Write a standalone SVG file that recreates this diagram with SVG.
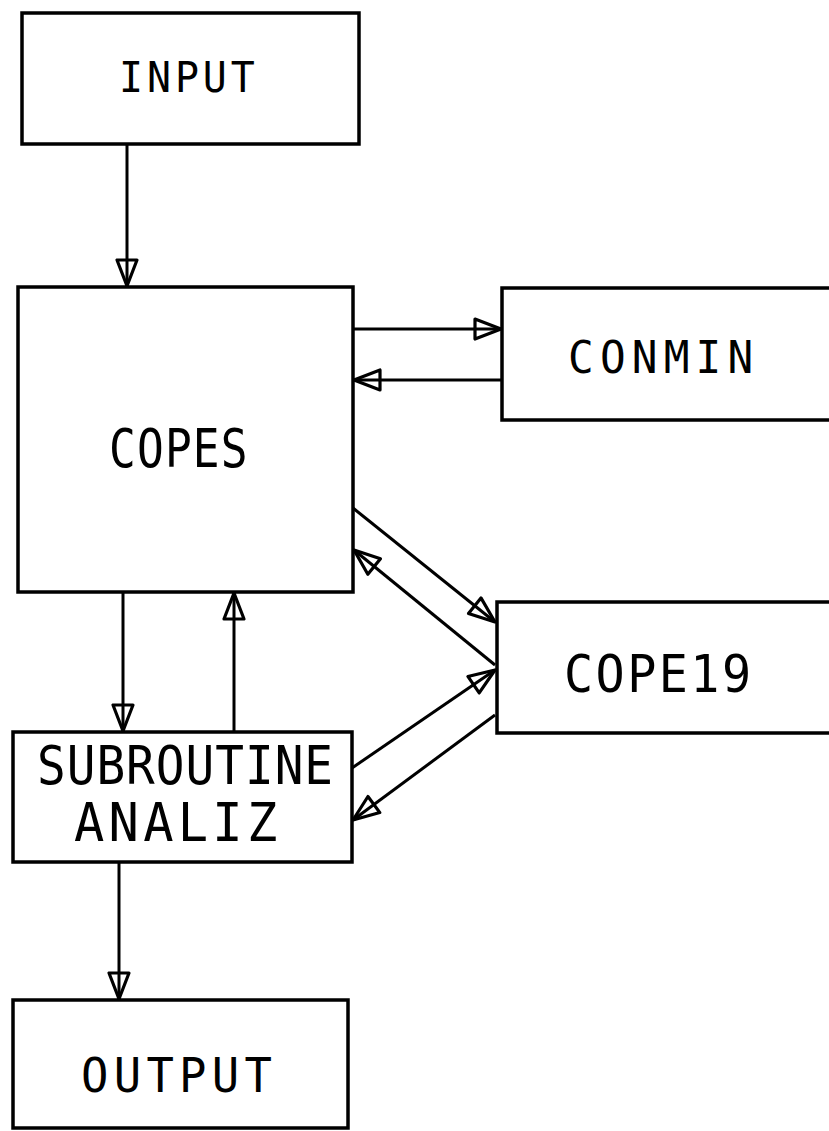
<svg xmlns="http://www.w3.org/2000/svg" width="829" height="1131" viewBox="0 0 829 1131">
  <style>
    .box { fill: #ffffff; stroke: #000000; stroke-width: 3.5; }
    .lbl { font-family: "DejaVu Sans Mono", "Liberation Mono", monospace; fill: #000000; }
    .conn { stroke: #000000; stroke-width: 3; fill: none; marker-end: url(#arr); }
  </style>
  <defs>
    <marker id="arr" markerUnits="userSpaceOnUse" viewBox="-3 -3 32 26" markerWidth="32" markerHeight="26" refX="26" refY="10" orient="auto">
      <path d="M0,0 L26,10 L0,20 Z" fill="none" stroke="#000000" stroke-width="3.2" stroke-linejoin="round"/>
    </marker>
  </defs>
  <rect width="829" height="1131" fill="#ffffff"/>

  <g id="input">
    <rect class="box" x="22" y="13" width="337" height="131"/>
    <text class="lbl" transform="translate(119,92) scale(0.95,1)" font-size="42" textLength="143" lengthAdjust="spacing">INPUT</text>
  </g>
  <g id="copes">
    <rect class="box" x="18" y="287" width="335" height="305"/>
    <text class="lbl" transform="translate(109,467) scale(0.84,1)" font-size="53" textLength="165" lengthAdjust="spacing">COPES</text>
  </g>
  <g id="conmin">
    <rect class="box" x="502" y="288" width="340" height="132"/>
    <text class="lbl" transform="translate(568,373) scale(0.95,1)" font-size="45" textLength="195" lengthAdjust="spacing">CONMIN</text>
  </g>
  <g id="cope19">
    <rect class="box" x="497" y="602" width="345" height="131"/>
    <text class="lbl" transform="translate(564,692) scale(0.95,1)" font-size="51" textLength="197" lengthAdjust="spacing">COPE19</text>
  </g>
  <g id="analiz">
    <rect class="box" x="13" y="732" width="339" height="130"/>
    <text class="lbl" transform="translate(37,784) scale(0.9,1)" font-size="53" textLength="329" lengthAdjust="spacing">SUBROUTINE</text>
    <text class="lbl" transform="translate(74,841) scale(0.95,1)" font-size="53" textLength="214" lengthAdjust="spacing">ANALIZ</text>
  </g>
  <g id="output">
    <rect class="box" x="13" y="1000" width="335" height="128"/>
    <text class="lbl" transform="translate(81,1092) scale(0.95,1)" font-size="48" textLength="201" lengthAdjust="spacing">OUTPUT</text>
  </g>

  <g id="connectors">
    <line class="conn" x1="127" y1="144" x2="127" y2="286"/>
    <line class="conn" x1="353" y1="329" x2="501" y2="329"/>
    <line class="conn" x1="502" y1="380" x2="354" y2="380"/>
    <line class="conn" x1="353" y1="508" x2="495" y2="622"/>
    <line class="conn" x1="495" y1="665" x2="354" y2="550"/>
    <line class="conn" x1="352" y1="768" x2="495" y2="670"/>
    <line class="conn" x1="495" y1="715" x2="353" y2="820"/>
    <line class="conn" x1="123" y1="592" x2="123" y2="731"/>
    <line class="conn" x1="234" y1="732" x2="234" y2="593"/>
    <line class="conn" x1="119" y1="862" x2="119" y2="999"/>
  </g>
</svg>
